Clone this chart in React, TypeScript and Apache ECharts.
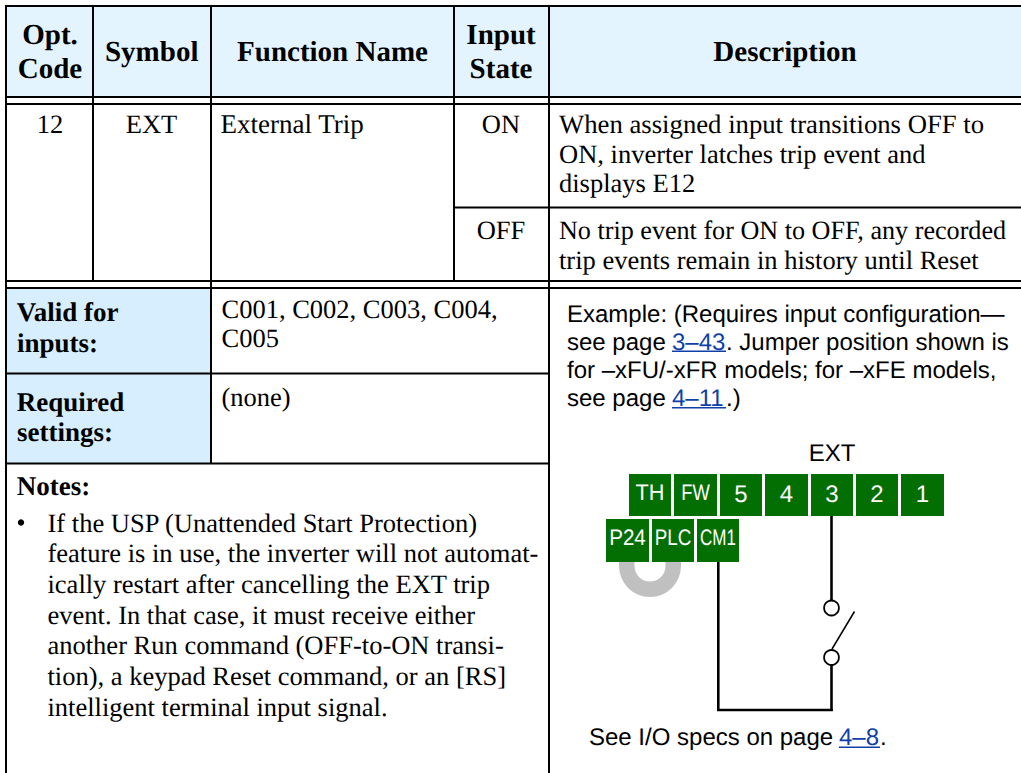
import React, { useEffect, useRef } from "react";
import * as echarts from "echarts";

const SERIF = "'Liberation Serif'";
const SANS = "'Liberation Sans'";

const headerTexts = ["Opt.", "Code", "Symbol", "Function Name", "Input", "State", "Description"];
const rowTexts = ["12", "EXT", "External Trip", "ON", "OFF"];
const onDescription = ["When assigned input transitions OFF to", "ON, inverter latches trip event and", "displays E12"];
const offDescription = ["No trip event for ON to OFF, any recorded", "trip events remain in history until Reset"];
const labelTexts = ["Valid for", "inputs:", "Required", "settings:", "Notes:"];
const validInputs = ["C001, C002, C003, C004,", "C005"];
const noneText = "(none)";
const noteLines = [
  "If the USP (Unattended Start Protection)",
  "feature is in use, the inverter will not automat-",
  "ically restart after cancelling the EXT trip",
  "event. In that case, it must receive either",
  "another Run command (OFF-to-ON transi-",
  "tion), a keypad Reset command, or an [RS]",
  "intelligent terminal input signal.",
];
const exampleLines = ["Example: (Requires input configuration—", "see page ", ". Jumper position shown is", "for –xFU/-xFR models; for –xFE models,", "see page ", ".)"];
const linkTexts = ["3–43", "4–11", "4–8"];
const topTerminals = ["TH", "FW", "5", "4", "3", "2", "1"];
const topSquash = [0.97, 0.82, 1, 1, 1, 1, 1];
const bottomTerminals = ["P24", "PLC", "CM1"];
const bottomSquash = [0.92, 0.84, 0.76];
const footerText = "See I/O specs on page ";

export default function App() {
  const ref = useRef<HTMLDivElement>(null);
  useEffect(() => {
    const css = document.createElement("style");
    css.textContent = "svg text{text-rendering:geometricPrecision}";
    document.head.appendChild(css);
    const chart = echarts.init(ref.current!, null, { renderer: "svg" });
    const LINE = "#000";
    const GREEN = "#036f03";
    const LINK = "#0f3fa8";
    const els: any[] = [];
    const rect = (x0: number, y0: number, x1: number, y1: number, fill: string) =>
      els.push({ type: "rect", shape: { x: x0, y: y0, width: x1 - x0, height: y1 - y0 }, style: { fill } });
    const hl = (x0: number, x1: number, y: number, w = 2) => rect(x0, y - w / 2, x1, y + w / 2, LINE);
    const vl = (x: number, y0: number, y1: number, w = 2) => rect(x - w / 2, y0, x + w / 2, y1, LINE);
    const text = (t: string, x: number, y: number, o: any = {}) =>
      els.push({
        type: "text",
        x,
        y,
        scaleX: o.scaleX ?? 1,
        style: {
          text: t,
          fontFamily: o.family ?? SERIF,
          fontSize: o.size ?? 26.5,
          fontWeight: o.bold ? "bold" : "normal",
          fill: o.fill ?? "#000",
          align: o.align ?? "left",
          verticalAlign: "middle",
        },
      });
    const hd = { bold: true, size: 29, align: "center" };
    const lb = { bold: true, size: 27 };
    const cen = { align: "center" };
    const sans = { family: SANS, size: 24 };

    // fills
    rect(6, 6, 1021, 97, "#e4f4fe");
    rect(6, 288, 211, 464, "#d6eefd");

    // grey jumper (beneath terminals)
    els.push({ type: "sector", shape: { cx: 650, cy: 566, r: 31, r0: 15.5, startAngle: 0, endAngle: Math.PI, clockwise: true }, style: { fill: "#c0c0c0" } });
    rect(619, 555, 634.5, 566, "#c0c0c0");
    rect(665.5, 555, 681, 566, "#c0c0c0");

    // grid
    hl(5, 1021, 6);
    hl(5, 1021, 97);
    hl(5, 1021, 104);
    hl(454, 1021, 207.5, 1.8);
    hl(5, 1021, 281);
    hl(5, 1021, 288);
    hl(5, 549, 373.5);
    hl(5, 549, 463.5);
    vl(6, 5, 773);
    vl(93, 5, 281);
    vl(211, 5, 464);
    vl(454, 5, 281);
    vl(549, 5, 773);

    // header
    text(headerTexts[0], 50, 35, hd);
    text(headerTexts[1], 50, 69, hd);
    text(headerTexts[2], 151.7, 52, hd);
    text(headerTexts[3], 332.5, 52, hd);
    text(headerTexts[4], 501, 35, hd);
    text(headerTexts[5], 501, 69, hd);
    text(headerTexts[6], 785, 52, hd);

    // row
    text(rowTexts[0], 50, 124, cen);
    text(rowTexts[1], 151.5, 124, cen);
    text(rowTexts[2], 220.5, 124, { size: 27 });
    text(rowTexts[3], 501, 124, cen);
    text(rowTexts[4], 501, 230, cen);
    onDescription.forEach((t, i) => text(t, 559, 124 + i * 29.5, { scaleX: i === 0 ? 1.008 : 1 }));
    offDescription.forEach((t, i) => text(t, 559, 230 + i * 29.5, { scaleX: i === 0 ? 0.986 : 1 }));

    // labels
    text(labelTexts[0], 16.7, 312, lb);
    text(labelTexts[1], 17, 343, lb);
    text(labelTexts[2], 16.7, 401.5, lb);
    text(labelTexts[3], 17, 432, lb);
    text(labelTexts[4], 16.7, 485.5, lb);
    validInputs.forEach((t, i) => text(t, 221.5, 308.5 + i * 29.3));
    text(noneText, 221.5, 397);
    els.push({ type: "circle", shape: { cx: 21, cy: 522.5, r: 3.2 }, style: { fill: "#000" } });
    noteLines.forEach((t, i) => text(t, 47.5, 522.5 + i * 30.7));

    // example
    text(exampleLines[0], 567, 314, sans);
    text(exampleLines[1], 567, 342, sans);
    text(linkTexts[0], 672, 342, { ...sans, fill: LINK });
    rect(672, 350.5, 726, 352, LINK);
    text(exampleLines[2], 726, 342, sans);
    text(exampleLines[3], 567, 370, sans);
    text(exampleLines[4], 567, 398, sans);
    text(linkTexts[1], 672, 398, { ...sans, fill: LINK });
    rect(672, 407, 726, 408.5, LINK);
    text(exampleLines[5], 726, 398, sans);

    // terminals
    text("EXT", 832, 453, { ...sans, align: "center" });
    const topX = [[629, 671], [674, 717], [720, 762], [765, 808], [811, 853], [856, 898], [901, 944]];
    topTerminals.forEach((t, i) => {
      rect(topX[i][0], 474, topX[i][1], 516, GREEN);
      text(t, (topX[i][0] + topX[i][1]) / 2, i < 2 ? 492 : 494.5, { family: SANS, size: i < 2 ? 22.4 : 24, fill: "#fff", align: "center", scaleX: topSquash[i] });
    });
    const botX = [[606, 649], [652, 694], [697, 739]];
    bottomTerminals.forEach((t, i) => {
      rect(botX[i][0], 519, botX[i][1], 562, GREEN);
      text(t, (botX[i][0] + botX[i][1]) / 2, 537.7, { family: SANS, size: 22.4, fill: "#fff", align: "center", scaleX: bottomSquash[i] });
    });

    // wiring
    vl(831.5, 516, 601, 2.6);
    vl(831.5, 664, 711, 2.6);
    hl(717, 832.8, 710, 2.6);
    vl(718.3, 562, 711, 2.6);
    const circ = (cy: number) =>
      els.push({ type: "circle", shape: { cx: 831.5, cy, r: 7.4 }, style: { fill: "#fff", stroke: "#000", lineWidth: 1.8 } });
    circ(608);
    circ(657.5);
    els.push({ type: "line", shape: { x1: 832, y1: 649, x2: 854.5, y2: 611.5 }, style: { stroke: "#000", lineWidth: 1.5 } });

    // footer
    text(footerText, 589, 737, sans);
    text(linkTexts[2], 839, 737, { ...sans, fill: LINK });
    rect(839, 746.5, 880, 748, LINK);
    text(".", 880, 737, sans);

    chart.setOption({
      animation: false,
      backgroundColor: "#fff",
      graphic: { elements: els },
    });
    return () => {
      chart.dispose();
      css.remove();
    };
  }, []);
  return <div ref={ref} style={{ position: "absolute", left: 0, top: 0, width: 1021, height: 773 }} />;
}
